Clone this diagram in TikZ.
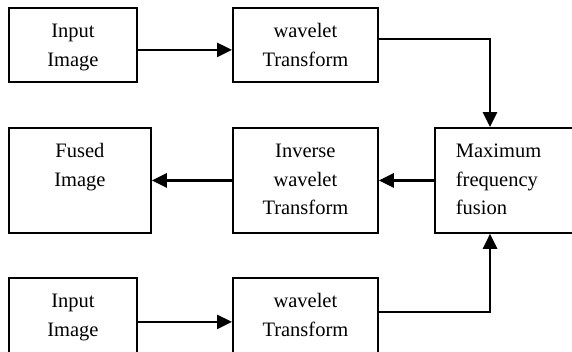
\documentclass[tikz,border=0pt]{standalone}
\usepackage{fontspec}
\setmainfont{Liberation Serif}
\usetikzlibrary{arrows.meta}
\newcommand{\blocktext}[3]{\parbox[c][#2][t]{#1}{\centering\rule{0pt}{30pt}#3}}

\begin{document}
\begin{tikzpicture}[x=1pt,y=-1pt,>={Triangle[length=15pt,width=14pt]},
  blk/.style={draw,line width=1.8pt,inner sep=0pt,anchor=north west,font=\fontsize{20.5}{28.5}\selectfont},
  arr/.style={->,line width=2.7pt}]
  \useasboundingbox (0,0) rectangle (572,351);
  \node[blk] (in1) at (8,7) {\blocktext{128pt}{74pt}{Input\\Image}};
  \node[blk] (wt1) at (232,7) {\blocktext{145pt}{74pt}{wavelet\\Transform}};
  \node[blk] (fu) at (8,127) {\blocktext{142pt}{105pt}{Fused\\Image}};
  \node[blk] (inv) at (232,127) {\blocktext{145pt}{105pt}{Inverse\\wavelet\\Transform}};
  \node[blk] (mx) at (434,127) {\parbox[c][105pt][t]{160pt}{\raggedright\leftskip=21pt\rule{0pt}{30pt}Maximum\\frequency\\fusion}};
  \node[blk] (in2) at (8,277) {\blocktext{128pt}{76pt}{Input\\Image}};
  \node[blk] (wt2) at (232,277) {\blocktext{145pt}{76pt}{wavelet\\Transform}};

  \draw[arr] ([yshift=-5pt]in1.east) -- ([yshift=-5pt]wt1.west);
  \draw[arr] ([yshift=6pt]wt1.east) -| ([xshift=56pt]mx.north west);
  \draw[arr] (mx.west) -- (inv.east);
  \draw[arr] (inv.west) -- (fu.east);
  \draw[arr] ([yshift=-6pt]in2.east) -- ([yshift=-6pt]wt2.west);
  \draw[arr] ([yshift=4pt]wt2.east) -| ([xshift=56pt]mx.south west);
\end{tikzpicture}
\end{document}
